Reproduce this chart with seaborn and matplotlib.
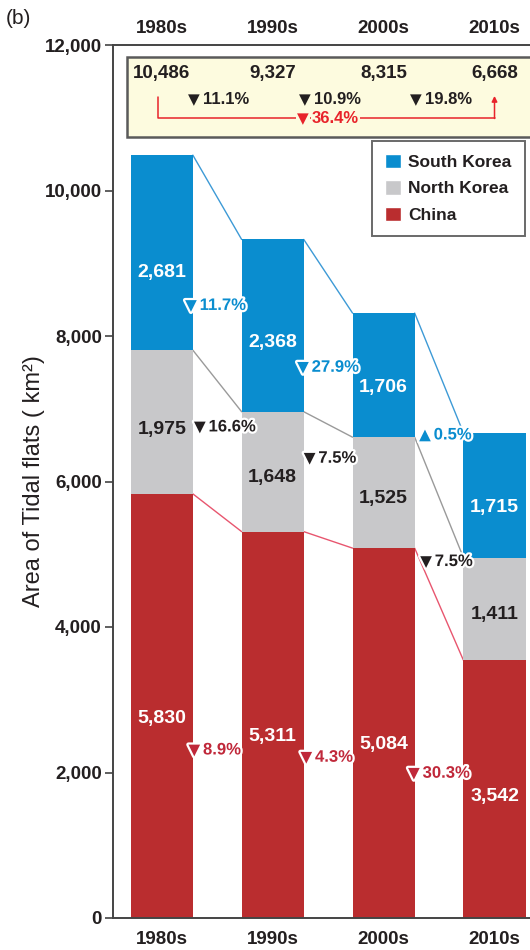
import matplotlib
matplotlib.use("Agg")
import matplotlib.pyplot as plt
import matplotlib.patheffects as pe
from matplotlib.patches import Rectangle, Patch
import numpy as np
import pandas as pd
import seaborn as sns

# ---- data -------------------------------------------------------------
decades = ["1980s", "1990s", "2000s", "2010s"]
china = [5830, 5311, 5084, 3542]
north_korea = [1975, 1648, 1525, 1411]
south_korea = [2681, 2368, 1706, 1715]
totals = [10486, 9327, 8315, 6668]

# decade-to-decade change labels (arrow, text)
total_change = ["11.1%", "10.9%", "19.8%"]
overall_change = "36.4%"
sk_change = [("▼", "11.7%"), ("▼", "27.9%"), ("▲", "0.5%")]
nk_change = [("▼", "16.6%"), ("▼", "7.5%"), ("▼", "7.5%")]
cn_change = [("▼", "8.9%"), ("▼", "4.3%"), ("▼", "30.3%")]

yticks = [0, 2000, 4000, 6000, 8000, 10000, 12000]

# ---- style ------------------------------------------------------------
sns.set_style("ticks")
plt.rcParams["font.family"] = ["Liberation Sans", "DejaVu Sans"]

BLUE = "#0a8dcf"
GRAY = "#c8c8ca"
RED = "#ba2d2f"
DARK = "#231f20"
LINE_BLUE = "#3d9ad6"
LINE_GRAY = "#9a9a9a"
LINE_RED = "#e8566f"
BRIGHT_RED = "#e8232a"
PANEL = "#fdfbdf"

fig = plt.figure(figsize=(5.3, 9.5), dpi=100)
ax = fig.add_axes([113 / 530, 1 - 918 / 950, 1 - 113 / 530, (918 - 45) / 950])

df = pd.DataFrame({
    "decade": decades,
    "china": china,
    "nk_cum": np.add(china, north_korea),
    "total": np.add(np.add(china, north_korea), south_korea),
})

W = 0.56
# stacked bars drawn as overlapping cumulative bars
sns.barplot(data=df, x="decade", y="total", color=BLUE, width=W,
            saturation=1, linewidth=0, ax=ax, zorder=2)
sns.barplot(data=df, x="decade", y="nk_cum", color=GRAY, width=W,
            saturation=1, linewidth=0, ax=ax, zorder=2)
sns.barplot(data=df, x="decade", y="china", color=RED, width=W,
            saturation=1, linewidth=0, ax=ax, zorder=2)

ax.set_xlim(-0.44, 3.32)
ax.set_ylim(0, 12000)
ax.set_yticks(yticks)
ax.set_yticklabels([f"{v:,}" for v in yticks], fontsize=13.5,
                   fontweight="bold", color=DARK)
ax.tick_params(axis="y", length=6, width=1.2, color="#444", pad=2)
ax.tick_params(axis="x", length=0, pad=9)
for lab in ax.get_xticklabels():
    lab.set_fontsize(13.5)
    lab.set_fontweight("bold")
    lab.set_color(DARK)
ax.set_xlabel("")
ax.set_ylabel("Area of Tidal flats ( km²)", fontsize=17, color=DARK,
              labelpad=0)
for side in ["left", "bottom", "top"]:
    ax.spines[side].set_color("#444")
    ax.spines[side].set_linewidth(1.4)
ax.spines["right"].set_visible(False)

top = ax.secondary_xaxis("top")
top.set_xticks(range(len(decades)))
top.set_xticklabels(decades, fontsize=13.5, fontweight="bold", color=DARK)
top.tick_params(length=0, pad=6)
top.spines["top"].set_visible(False)

# ---- connector lines between bars --------------------------------------
x = np.arange(len(decades))
for series, col in [(df["total"], LINE_BLUE), (df["nk_cum"], LINE_GRAY),
                    (df["china"], LINE_RED)]:
    for i in range(len(decades) - 1):
        ax.plot([x[i] + W / 2, x[i + 1] - W / 2],
                [series[i], series[i + 1]], color=col, lw=1.0, zorder=1)

# ---- segment value labels ---------------------------------------------
bottoms = [np.zeros(4), np.array(china), np.add(china, north_korea)]
for vals, base, col, frac in [(china, bottoms[0], "white", 0.47),
                              (north_korea, bottoms[1], DARK, 0.45),
                              (south_korea, bottoms[2], "white", 0.40)]:
    for i, v in enumerate(vals):
        ax.text(x[i], base[i] + v * frac, f"{v:,}", ha="center",
                va="center", fontsize=14, fontweight="bold", color=col,
                zorder=4)


def change_label(xx, yy, arrow, txt, col, halo=None, bbox=None, z=5):
    """Triangle marker followed by a percentage, left-anchored at (xx, yy)."""
    kw = dict(xycoords="data", textcoords="offset points", va="center",
              color=col, zorder=z, annotation_clip=False)
    if halo:
        kw["path_effects"] = halo
    ax.annotate(arrow, (xx, yy), xytext=(0, 0), ha="left", fontsize=11,
                family="DejaVu Sans", bbox=bbox, **kw)
    ax.annotate(txt, (xx, yy), xytext=(10.5, 0), ha="left", fontsize=12,
                fontweight="bold", bbox=bbox, **kw)


# ---- change labels between bars ----------------------------------------
halo = [pe.withStroke(linewidth=3.2, foreground="white")]
label_layout = [
    (sk_change, BLUE, [0.21, 1.22, 2.32], [8420, 7570, 6640]),
    (nk_change, DARK, [0.29, 1.28, 2.33], [6750, 6320, 4900]),
    (cn_change, "#c0283a", [0.24, 1.25, 2.22], [2310, 2210, 1990]),
]
for changes, col, xs, ys in label_layout:
    for (arrow, txt), xx, yy in zip(changes, xs, ys):
        change_label(xx, yy, arrow, txt, col, halo=halo)

# ---- totals panel ------------------------------------------------------
ax.add_patch(Rectangle((-0.31, 10735), 4.0, 1100, facecolor=PANEL,
                       edgecolor="#5a5a5a", lw=1.8, zorder=3, clip_on=False))
for i, t in enumerate(totals):
    ax.text(x[i], 11615, f"{t:,}", ha="center", va="center", fontsize=13.5,
            fontweight="bold", color=DARK, zorder=4)
for i, c in enumerate(total_change):
    change_label(x[i] + 0.24, 11250, "▼", c, DARK, z=4)
ax.plot([-0.03, -0.03, 3.0], [11290, 10990, 10990], color=BRIGHT_RED,
        lw=1.1, zorder=4)
ax.annotate("", xy=(3.0, 11300), xytext=(3.0, 10990),
            arrowprops=dict(arrowstyle="-|>", color=BRIGHT_RED, lw=1.1,
                            mutation_scale=8, shrinkA=0, shrinkB=0),
            zorder=4)
change_label(1.22, 10990, "▼", overall_change, BRIGHT_RED,
             bbox=dict(facecolor=PANEL, edgecolor="none", pad=0.8), z=5)

# ---- legend -----------------------------------------------------------
handles = [Patch(facecolor=BLUE, label="South Korea"),
           Patch(facecolor=GRAY, label="North Korea"),
           Patch(facecolor=RED, label="China")]
leg = fig.legend(handles=handles, loc="upper left",
                 bbox_to_anchor=(372 / 530, 1 - 141 / 950),
                 prop=dict(size=12.5, weight="bold"), frameon=True,
                 fancybox=False, handlelength=0.9, handleheight=0.9,
                 handletextpad=0.45, labelspacing=0.58, borderpad=0.75,
                 borderaxespad=0)
leg.get_frame().set_edgecolor("#444")
leg.get_frame().set_linewidth(1.4)
for t in leg.get_texts():
    t.set_color(DARK)

fig.text(6 / 530, 1 - 19 / 950, "(b)", fontsize=15, color=DARK,
         ha="left", va="center")

fig.savefig("out.png", dpi=100)
